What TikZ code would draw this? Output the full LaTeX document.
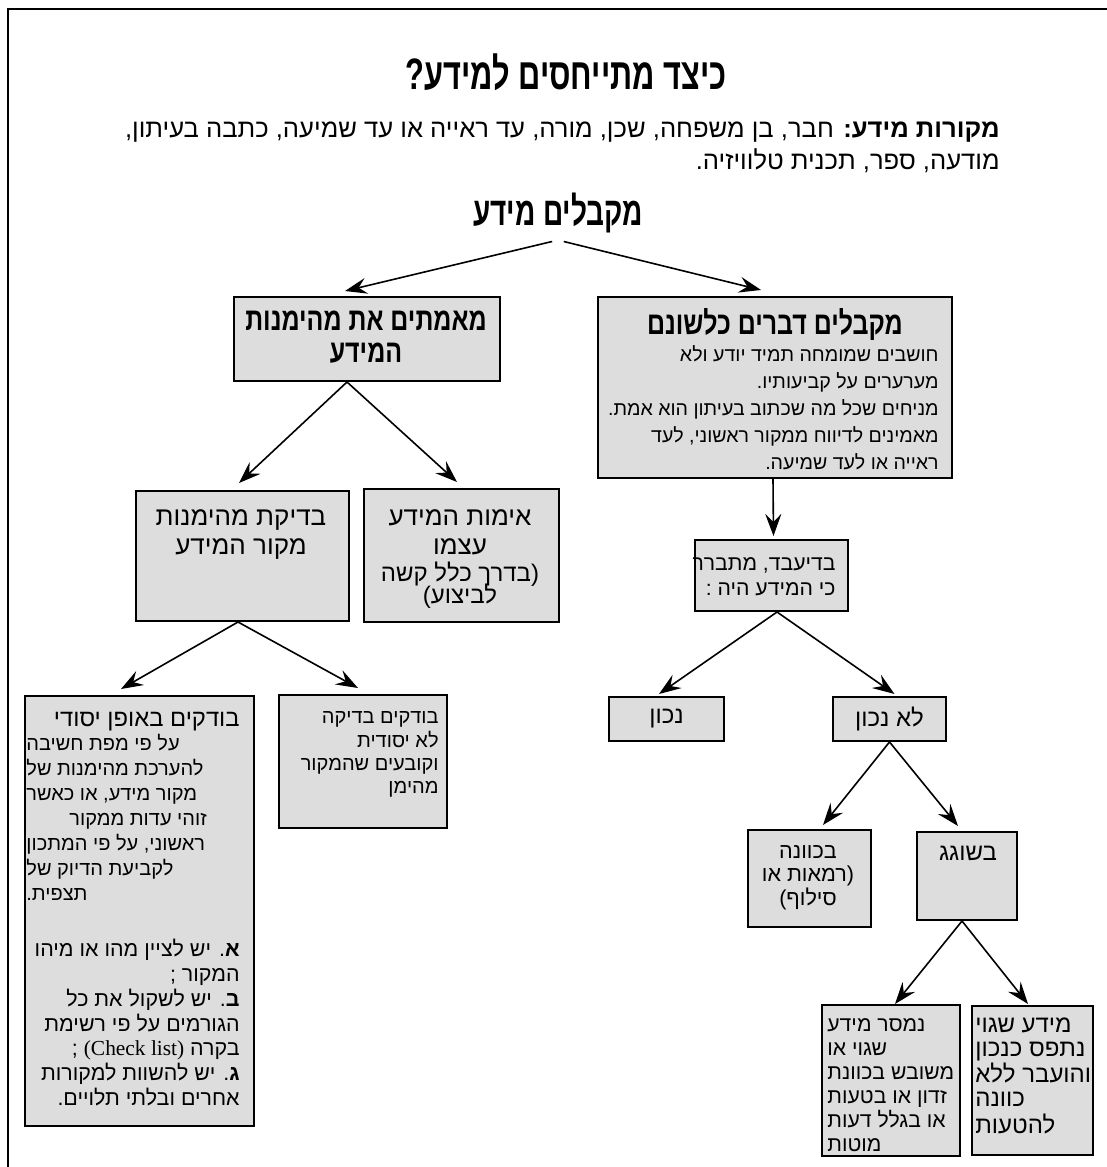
\documentclass[tikz,border=0pt]{standalone}
\usepackage{fontspec}
\usetikzlibrary{positioning,arrows.meta,calc}
\setmainfont{Liberation Serif}
\newfontfamily\hebfont[Script=Hebrew]{Liberation Sans}
\newfontfamily\hebnarrow[Script=Hebrew,FakeStretch=0.78]{Liberation Sans}
\newfontfamily\hebtitle[Script=Hebrew,FakeStretch=0.7]{Liberation Sans}
\TeXXeTstate=1
\newcommand{\rl}[1]{\hbox{\beginR #1\endR}}
\newcommand{\fs}[2]{\fontsize{#1}{#2}\selectfont}
\newcommand{\ltab}[1]{\begin{tabular}[t]{@{}l@{}}#1\end{tabular}}
\newcommand{\rtab}[1]{\begin{tabular}[t]{@{}r@{}}#1\end{tabular}}
\newcommand{\ctab}[1]{\begin{tabular}[t]{@{}c@{}}#1\end{tabular}}
\definecolor{boxgray}{RGB}{221,221,221}

\begin{document}
\begin{tikzpicture}[x=0.5pt,y=-0.5pt,>={Stealth[length=11pt,width=8pt,inset=4pt]},
  box/.style={draw,line width=1pt,fill=boxgray,inner sep=0pt,anchor=north west},
  txt/.style={inner sep=0pt,font=\hebfont\fs{12}{12}},
  head/.style={inner sep=0pt,font=\hebnarrow\bfseries\fs{16}{16}},
  arr/.style={->,line width=0.8pt}]
\useasboundingbox (0,0) rectangle (1107,1167);
\draw[line width=1pt] (8,1167) -- (8,9) -- (1107,9);

% title and sources
\node (title) [font=\hebtitle\bfseries\fs{22}{26}] at (566,72) {\rl{כיצד מתייחסים למידע?}};
\node (sources) [anchor=north east,inner sep=0pt,font=\hebfont\fs{12.8}{16}] at (1000,115)
  {\rtab{\rl{\textbf{מקורות מידע:} חבר, בן משפחה, שכן, מורה, עד ראייה או עד שמיעה, כתבה בעיתון,}\\
   \rl{מודעה, ספר, תכנית טלוויזיה.}}};
\node (recv) [font=\hebtitle\bfseries\fs{20}{24}] at (558,213) {\rl{מקבלים מידע}};

% boxes
\node (lit) [box,minimum width=177pt,minimum height=90.5pt] at (597,296) {};
\node (verify) [box,minimum width=133pt,minimum height=42pt] at (233,296) {};
\node (srccheck) [box,minimum width=106.5pt,minimum height=65pt] at (135,490) {};
\node (selfverify) [box,minimum width=97.5pt,minimum height=66.5pt] at (363,488) {};
\node (thorough) [box,minimum width=114.5pt,minimum height=215pt] at (24,695) {};
\node (shallow) [box,minimum width=84pt,minimum height=66.5pt] at (278,694) {};
\node (after) [box,minimum width=76.5pt,minimum height=35.5pt] at (694,539) {};
\node (right) [box,minimum width=57.5pt,minimum height=22pt] at (608,696) {};
\node (wrong) [box,minimum width=56.5pt,minimum height=22pt] at (832,696) {};
\node (intent) [box,minimum width=61.5pt,minimum height=48.5pt] at (747,829) {};
\node (mistake) [box,minimum width=50pt,minimum height=44pt] at (916,831) {};
\node (passed) [box,minimum width=69pt,minimum height=75.5pt] at (821,1004) {};
\node (caught) [box,minimum width=60.5pt,minimum height=74.5pt] at (971,1005) {};

% box texts
\node (lit-h) [head,anchor=north] at ($(lit.north)+(0,12)$) {\ctab{\rl{מקבלים דברים כלשונם}}};
\node (lit-t) [txt,anchor=north east,font=\hebfont\fs{9.8}{13.5}] at (939,342)
  {\rtab{\rl{חושבים שמומחה תמיד יודע ולא}\\\rl{מערערים על קביעותיו.}\\
   \rl{מניחים שכל מה שכתוב בעיתון הוא אמת.}\\\rl{מאמינים לדיווח ממקור ראשוני, לעד}\\
   \rl{ראייה או לעד שמיעה.}}};
\node (verify-t) [head,anchor=north] at (366,308) {\ctab{\rl{מאמתים את מהימנות}\\\rl{המידע}}};
\node (srccheck-t) [txt,anchor=north,font=\hebfont\fs{13}{14.5}] at (241,505)
  {\ctab{\rl{בדיקת מהימנות}\\\rl{מקור המידע}}};
\node (selfverify-t) [txt,anchor=north,font=\hebfont\fs{13}{14.5}] at (460,505)
  {\ctab{\rl{אימות המידע}\\\rl{עצמו}\\[-1pt]{\fs{12}{14.5}\rl{(בדרך כלל קשה}}\\[-3.5pt]{\fs{12}{14.5}\rl{לביצוע)}}}};
\node (thorough-h) [txt,anchor=north east,font=\hebfont\fs{11.9}{12.5}] at (240,709)
  {\rtab{\rl{בודקים באופן יסודי}}};
\node (thorough-t) [txt,anchor=north west,font=\hebfont\fs{10}{12.5}] at (26,733)
  {\ltab{\rl{על פי מפת חשיבה}\\\rl{להערכת מהימנות של}\\\rl{מקור מידע, או כאשר}\\
   \hspace*{21.5pt}\rl{זוהי עדות ממקור}\\\rl{ראשוני, על פי המתכון}\\\rl{לקביעת הדיוק של}\\\rl{תצפית.}}};
\node (thorough-l) [txt,anchor=north east,font=\hebfont\fs{10.7}{12.35}] at (240,939)
  {\rtab{\rl{\textbf{א}. יש לציין מהו או מיהו}\\\rl{המקור ;}\\
   \rl{\textbf{ב}. יש לשקול את כל}\\\rl{הגורמים על פי רשימת}\\
   \rl{בקרה \beginL{\rmfamily (Check list)}\endL{} ;}\\
   \rl{\textbf{ג}. יש להשוות למקורות}\\\rl{אחרים ובלתי תלויים.}}};
\node (shallow-t) [txt,anchor=north east,font=\hebfont\fs{10}{11.7}] at (439,707)
  {\rtab{\rl{בודקים בדיקה}\\\rl{לא יסודית}\\\rl{וקובעים שהמקור}\\\rl{מהימן}}};
\node (after-t) [txt,anchor=north east,font=\hebfont\fs{10.6}{12.5}] at (836,553)
  {\rtab{\rl{בדיעבד, מתברר}\\\rl{כי המידע היה :}}};
\node (right-t) [txt] at (right.center) {\rl{נכון}};
\node (wrong-t) [txt] at (wrong.center) {\rl{לא נכון}};
\node (intent-t) [txt,anchor=north,font=\hebfont\fs{10.8}{11.5}] at (808,842)
  {\ctab{\rl{בכוונה}\\\rl{(רמאות או}\\\rl{סילוף)}}};
\node (mistake-t) [txt,anchor=north] at (968,843) {\ctab{\rl{בשוגג}}};
\node (passed-t) [txt,anchor=north west,font=\hebfont\fs{10.6}{12}] at (827,1014)
  {\ltab{\rl{נמסר מידע}\\\rl{שגוי או}\\\rl{משובש בכוונת}\\\rl{זדון או בטעות}\\\rl{או בגלל דעות}\\\rl{מוטות}}};
\node (caught-t) [txt,anchor=north west] at (975,1015)
  {\ltab{\rl{מידע שגוי}\\\rl{נתפס כנכון}\\\rl{והועבר ללא}\\\rl{כוונה}\\\rl{להטעות}}};

% connectors
\draw[arr,shorten <=3pt] (recv.south) -- ($(verify.north)+(-22,-5)$);
\draw[arr,shorten <=3pt] (recv.south) -- ($(lit.north)+(-14,-6)$);
\draw[arr,shorten >=1.5pt] ($(lit.south)+(-2,0)$) -- ($(after.north)+(2,0)$);
\draw[arr] ($(verify.south)+(-20,0)$) -- ($(srccheck.north)+(-3.5,-7)$);
\draw[arr] ($(verify.south)+(-20,0)$) -- ($(selfverify.north)+(-4.5,-6)$);
\draw[arr] ($(srccheck.south)+(-4.5,0)$) -- ($(thorough.north)+(-18.5,-6)$);
\draw[arr] ($(srccheck.south)+(-4.5,0)$) -- ($(shallow.north)+(-5,-6)$);
\draw[arr] ($(after.south)+(5.5,0)$) -- ($(right.north)+(-7.5,-2)$);
\draw[arr] ($(after.south)+(5.5,0)$) -- ($(wrong.north)+(5,-2)$);
\draw[arr] (wrong.south) -- ($(intent.north)+(13.5,-4)$);
\draw[arr] (wrong.south) -- ($(mistake.north)+(-9,-5)$);
\draw[arr] ($(mistake.south)+(-5,0)$) -- ($(passed.north)+(4,0)$);
\draw[arr] ($(mistake.south)+(-5,0)$) -- ($(caught.north)+(-4.5,-1)$);
\end{tikzpicture}
\end{document}
